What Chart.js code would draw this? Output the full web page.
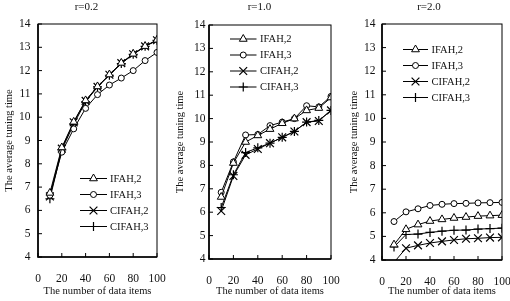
<!DOCTYPE html>
<html>
<head>
<meta charset="utf-8">
<script src="https://cdn.jsdelivr.net/npm/chart.js@4"></script>
<style>
  html, body { margin: 0; padding: 0; background: #fff; }
  #wrap { position: relative; width: 510px; height: 301px; }
  #wrap canvas { position: absolute; top: 0; }
</style>
</head>
<body>
<div id="wrap">
  <canvas id="c1" width="170" height="301" style="left:0px"></canvas>
  <canvas id="c2" width="170" height="301" style="left:170px"></canvas>
  <canvas id="c3" width="170" height="301" style="left:340px"></canvas>
</div>
<script>
// data
const dataItems = [10, 20, 30, 40, 50, 60, 70, 80, 90, 100];
const seriesNames = ['IFAH,2', 'IFAH,3', 'CIFAH,2', 'CIFAH,3'];
const panelTitles = ['r=0.2', 'r=1.0', 'r=2.0'];
const xTickValues = [0, 20, 40, 60, 80, 100];
const yTickValues = [4, 5, 6, 7, 8, 9, 10, 11, 12, 13, 14];

// r=0.2
const r02Ifah2  = [6.75, 8.7, 9.8, 10.72, 11.32, 11.83, 12.33, 12.72, 13.05, 13.32];
const r02Ifah3  = [6.65, 8.5, 9.5, 10.38, 10.97, 11.38, 11.68, 12.0, 12.43, 12.78];
const r02Cifah2 = [6.6, 8.65, 9.78, 10.7, 11.3, 11.82, 12.32, 12.7, 13.04, 13.3];
const r02Cifah3 = [6.5, 8.6, 9.7, 10.66, 11.3, 11.8, 12.3, 12.7, 13.04, 13.3];
// r=1.0
const r10Ifah2  = [6.65, 8.1, 9.0, 9.28, 9.55, 9.8, 10.0, 10.35, 10.45, 10.9];
const r10Ifah3  = [6.85, 8.15, 9.3, 9.32, 9.7, 9.85, 10.0, 10.55, 10.5, 10.95];
const r10Cifah2 = [6.05, 7.55, 8.45, 8.7, 8.95, 9.2, 9.45, 9.85, 9.9, 10.35];
const r10Cifah3 = [6.2, 7.6, 8.55, 8.75, 8.95, 9.2, 9.45, 9.85, 9.92, 10.35];
// r=2.0
const r20Ifah2  = [4.65, 5.3, 5.5, 5.65, 5.72, 5.78, 5.82, 5.86, 5.88, 5.9];
const r20Ifah3  = [5.63, 6.04, 6.17, 6.31, 6.36, 6.39, 6.4, 6.42, 6.43, 6.44];
const r20Cifah2 = [3.9, 4.5, 4.62, 4.72, 4.79, 4.85, 4.9, 4.92, 4.95, 4.96];
const r20Cifah3 = [4.55, 5.08, 5.1, 5.17, 5.22, 5.26, 5.27, 5.31, 5.33, 5.35];

const panelSeries = [
  [r02Ifah2, r02Ifah3, r02Cifah2, r02Cifah3],
  [r10Ifah2, r10Ifah3, r10Cifah2, r10Cifah3],
  [r20Ifah2, r20Ifah3, r20Cifah2, r20Cifah3]
];

const serif = '"Liberation Serif", "Times New Roman", serif';
const ink = '#111';

// marker look per series
const markers = [
  { pointStyle: 'triangle', radius: 4.5, borderWidth: 1 },
  { pointStyle: 'circle', radius: 3, borderWidth: 1 },
  { pointStyle: 'crossRot', radius: 5.5, borderWidth: 1.2 },
  { pointStyle: 'cross', radius: 4.5, borderWidth: 1.2 }
];

// page-space layout of each panel
const panels = [
  { left: 0,   area: { l: 38,  r: 157, t: 24, b: 257 }, yPad: 7.5, yTitlePad: 3,
    titleX: 86.5, legend: { x0: 80, x1: 107, tx: 110, y: 178.5 } },
  { left: 170, area: { l: 209, r: 331, t: 25, b: 259 }, yPad: 3.5, yTitlePad: 4,
    titleX: 259.5, legend: { x0: 230, x1: 256.5, tx: 260, y: 39 } },
  { left: 340, area: { l: 382, r: 502, t: 24, b: 260 }, yPad: 6.5, yTitlePad: 7.5,
    titleX: 429, legend: { x0: 403, x1: 428, tx: 431.5, y: 49.5 } }
];

const framePlugin = {
  id: 'frame',
  afterDraw(chart, args, opts) {
    const { ctx, chartArea: a, scales: { x, y } } = chart;
    const p = opts.panel;
    ctx.save();
    ctx.strokeStyle = '#000';
    ctx.lineWidth = 1;
    ctx.strokeRect(a.left, a.top, a.right - a.left, a.bottom - a.top);
    ctx.lineWidth = 1.6;
    ctx.beginPath();
    ctx.moveTo(a.left, a.top);
    ctx.lineTo(a.left, a.bottom);
    ctx.lineTo(a.right, a.bottom);
    ctx.stroke();

    // inward tick marks
    ctx.lineWidth = 1;
    ctx.beginPath();
    yTickValues.forEach(v => {
      const py = y.getPixelForValue(v);
      ctx.moveTo(a.left, py);
      ctx.lineTo(a.left + 4, py);
    });
    xTickValues.forEach(v => {
      const px = x.getPixelForValue(v);
      ctx.moveTo(px, a.bottom);
      ctx.lineTo(px, a.bottom - 4);
    });
    ctx.stroke();

    // panel title
    ctx.fillStyle = ink;
    ctx.font = '11px ' + serif;
    ctx.textAlign = 'center';
    ctx.textBaseline = 'middle';
    ctx.fillText(opts.title, p.titleX - p.left, 7);

    // legend: line with marker, then name
    const lg = p.legend;
    ctx.font = '10.5px ' + serif;
    ctx.textAlign = 'left';
    seriesNames.forEach((name, i) => {
      const ly = lg.y + i * 16;
      ctx.strokeStyle = '#000';
      ctx.lineWidth = 1;
      ctx.beginPath();
      ctx.moveTo(lg.x0 - p.left, ly);
      ctx.lineTo(lg.x1 - p.left, ly);
      ctx.stroke();
      ctx.fillStyle = '#fff';
      ctx.lineWidth = markers[i].borderWidth;
      Chart.helpers.drawPoint(ctx, {
        pointStyle: markers[i].pointStyle,
        radius: markers[i].radius,
        rotation: 0,
        borderWidth: markers[i].borderWidth
      }, (lg.x0 + lg.x1) / 2 - p.left, ly);
      ctx.fillStyle = ink;
      ctx.fillText(name, lg.tx - p.left, ly + 0.5);
    });
    ctx.restore();
  }
};

panels.forEach((p, k) => {
  const datasets = seriesNames.map((name, i) => ({
    label: name,
    data: dataItems.map((v, j) => ({ x: v, y: panelSeries[k][i][j] })),
    borderColor: '#000',
    borderWidth: 1,
    pointStyle: markers[i].pointStyle,
    pointRadius: c => (c.raw && c.raw.y < 4 ? 0 : markers[i].radius),
    pointBorderWidth: markers[i].borderWidth,
    pointBackgroundColor: '#fff',
    pointBorderColor: '#000',
    tension: 0
  }));

  new Chart(document.getElementById('c' + (k + 1)), {
    type: 'line',
    data: { datasets },
    plugins: [framePlugin],
    options: {
      responsive: false,
      animation: false,
      layout: { padding: { top: p.area.t, right: p.left + 170 - p.area.r, left: 0, bottom: 0 } },
      plugins: {
        legend: { display: false },
        tooltip: { enabled: false },
        frame: { panel: p, title: panelTitles[k] }
      },
      scales: {
        x: {
          type: 'linear',
          min: 0,
          max: 100,
          afterBuildTicks: s => { s.ticks = xTickValues.map(v => ({ value: v })); },
          afterFit: s => {
            s.height = 301 - p.area.b;
            s.paddingLeft = 0;
            s.paddingRight = 0;
          },
          grid: { display: false, drawTicks: false },
          border: { display: false },
          ticks: { padding: 15, maxRotation: 0, color: ink, font: { family: serif, size: 11.5 } },
          title: {
            display: true,
            text: 'The number of data items',
            color: ink,
            font: { family: serif, size: 10.5 },
            padding: { top: 0, bottom: 3 }
          }
        },
        y: {
          type: 'linear',
          min: 4,
          max: 14,
          afterBuildTicks: s => { s.ticks = yTickValues.map(v => ({ value: v })); },
          afterFit: s => {
            s.width = p.area.l - p.left;
            s.paddingTop = 0;
            s.paddingBottom = 0;
          },
          grid: { display: false, drawTicks: false },
          border: { display: false },
          ticks: { padding: p.yPad, color: ink, font: { family: serif, size: 11.5 } },
          title: {
            display: true,
            text: 'The average tuning time',
            color: ink,
            font: { family: serif, size: 10.5 },
            padding: { top: p.yTitlePad, bottom: 0 }
          }
        }
      }
    }
  });
});
</script>
</body>
</html>
